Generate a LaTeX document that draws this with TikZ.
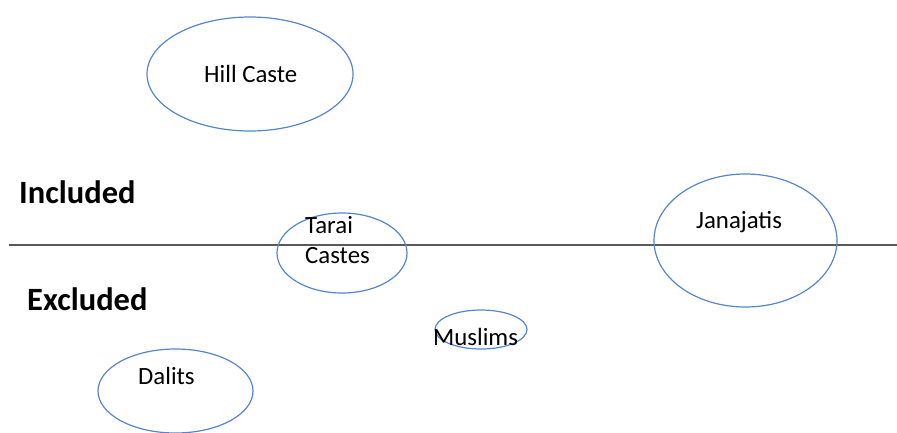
\documentclass[tikz,border=0pt]{standalone}
\usepackage{fontspec}
\setmainfont{Carlito}
\usepackage{tikz}
\usetikzlibrary{shapes.geometric}
\definecolor{ovalblue}{RGB}{86,132,206}
\definecolor{linegray}{RGB}{89,89,89}

\begin{document}
\begin{tikzpicture}[x=1pt,y=-1pt,
  oval node/.style={ellipse,draw=ovalblue,line width=1.2pt,inner sep=0pt},
  text node/.style={anchor=base west,inner sep=0pt,font=\fontsize{24.8}{30}\selectfont},
  side node/.style={anchor=base west,inner sep=0pt,font=\fontsize{32.5}{38}\selectfont\bfseries}]
  \useasboundingbox (0,0) rectangle (897,432);

  % the dividing line
  \coordinate (lineL) at (9,245);
  \coordinate (lineR) at (897,245);
  \draw[linegray,line width=2pt] (lineL) -- (lineR);

  \node[side node] (included) at (19,203) {Included};
  \node[side node] (excluded) at (27,310) {Excluded};

  % the groups
  \node[oval node,minimum width=206,minimum height=114] (hill) at (250,74) {};
  \node[oval node,minimum width=130,minimum height=80] (tarai) at (342,253) {};
  \node[oval node,minimum width=183,minimum height=133] (jana) at (745.5,240.5) {};
  \node[oval node,minimum width=92,minimum height=39] (muslim) at (481,329.5) {};
  \node[oval node,minimum width=155,minimum height=84] (dalit) at (175.5,391) {};

  \node[text node] (hilltext) at (204,82.7) {Hill Caste};
  \node[text node] (taraitext) at (305,233) {Tarai};
  \node[text node] (castestext) at (305,263) {Castes};
  \node[text node] (janatext) at (696,228) {Janajatis};
  \node[text node] (muslimtext) at (433,345) {Muslims};
  \node[text node] (dalittext) at (138,384) {Dalits};
\end{tikzpicture}
\end{document}
